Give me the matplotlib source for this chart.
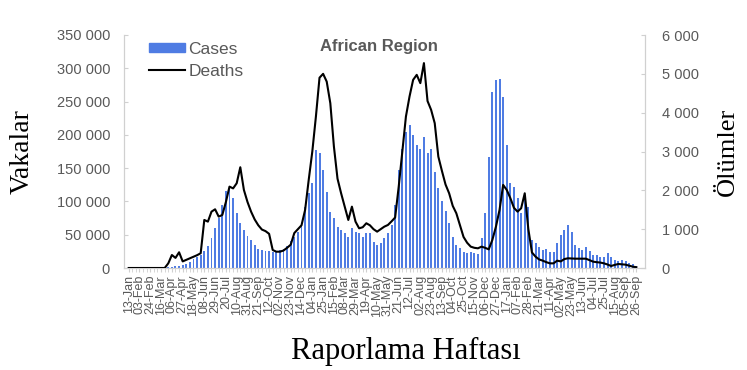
"""Weekly COVID-19 cases and deaths, WHO African Region."""
import pandas as pd
import matplotlib.pyplot as plt
from matplotlib.ticker import FuncFormatter, MultipleLocator
from matplotlib.lines import Line2D
from matplotlib.patches import Patch

START_WEEK = "2020-01-13"
N_WEEKS = 142

cases = [
    0, 0, 0, 0, 0, 0, 0, 0, 0,
    300, 700, 1200, 1800, 2500, 3000,
    4000, 6000, 9500, 13000, 16000, 19500, 25000, 33000, 45000, 60000,
    75000, 95000, 115000, 122000, 105000, 82000, 67000, 57000, 48000, 42000,
    35000, 29000, 27000, 26000, 25000, 24500, 25000, 27000, 28000, 33000,
    40000, 47000, 54500, 64000, 92000, 112000, 127000, 177000, 172000, 147000,
    114500, 84500, 74500, 62000, 57000, 52000, 47000, 59500, 54500, 52000,
    47000, 53000, 52000, 39500, 34500, 37000, 44500, 52000, 64500, 94500,
    147000, 179500, 204500, 214500, 199500, 184500, 179500, 197000, 172000, 179500,
    144500, 119500, 100000, 85000, 67000, 47000, 34500, 29500, 24000, 22000,
    23500, 22000, 21000, 44500, 82000, 167000, 264500, 282000, 284500, 257000,
    184500, 127000, 122000, 104500, 82000, 107000, 92000, 42000, 37000, 32000,
    27000, 28000, 24500, 24500, 37000, 49500, 57000, 64500, 54500, 34500,
    29500, 27000, 32000, 25000, 19500, 19500, 17000, 16000, 22000, 17000,
    12000, 11000, 12000, 11000, 7000, 6000, 3500,
]

deaths = [
    0, 0, 0, 0, 0, 0, 0, 0, 0, 0, 0,
    120, 335, 260, 405, 170, 210, 250, 290, 330, 380,
    1237, 1194, 1451, 1512, 1323, 1366, 1700, 2096, 2050, 2182,
    2595, 2010, 1700, 1450, 1250, 1100, 990, 950, 880, 464,
    420, 420, 450, 520, 600, 900, 1000, 1100, 1495, 2268,
    3000, 3900, 4900, 5000, 4800, 4244, 3127, 2300, 1924, 1580,
    1237, 1580, 1194, 1022, 1050, 1152, 1100, 1000, 936, 1000,
    1065, 1108, 1200, 1300, 2096, 3000, 3900, 4416, 4845, 4974,
    4760, 5276, 4300, 4072, 3729, 2869, 2500, 2150, 1924, 1600,
    1409, 1100, 800, 650, 550, 520, 507, 550, 520, 480,
    722, 1065, 1495, 2139, 2010, 1800, 1550, 1451, 1538, 1924,
    1000, 400, 292, 220, 189, 150, 120, 120, 189, 170,
    230, 250, 245, 240, 240, 240, 240, 200, 163, 150,
    140, 120, 90, 52, 80, 103, 95, 86, 60, 35, 20,
]

weeks = pd.date_range(START_WEEK, periods=N_WEEKS, freq="7D")
week_labels = [d.strftime("%d-%b") for d in weeks]

GRAY = "#595959"
AXIS = "#D0D0D0"
BLUE = "#4F7CE3"


def space_thousands(v, _pos):
    return f"{int(round(v)):,}".replace(",", " ")


def main():
    plt.rcParams["font.family"] = ["Liberation Sans", "DejaVu Sans"]

    fig = plt.figure(figsize=(7.47, 3.70), dpi=100)
    ax = fig.add_axes([124 / 747, 1 - 268 / 370, (645 - 124) / 747, (268 - 35) / 370])
    ax2 = ax.twinx()

    x = list(range(N_WEEKS))
    ax.bar(x, cases, width=0.55, color=BLUE, zorder=2)
    ax2.plot(x, deaths, color="black", lw=1.5, zorder=3)

    ax.set_xlim(-1.3, 143.4)
    ax.set_ylim(0, 350000)
    ax2.set_ylim(0, 6000)
    ax.yaxis.set_major_locator(MultipleLocator(50000))
    ax2.yaxis.set_major_locator(MultipleLocator(1000))
    ax.yaxis.set_major_formatter(FuncFormatter(space_thousands))
    ax2.yaxis.set_major_formatter(FuncFormatter(space_thousands))

    ax.set_xticks(x[::3])
    ax.set_xticklabels(week_labels[::3], rotation=90, fontsize=9, color=GRAY)
    ax.set_xticks(x, minor=True)
    ax.tick_params(axis="x", which="both", length=3, color=AXIS, pad=2)

    ax.tick_params(axis="y", direction="in", length=3, color=AXIS,
                   labelsize=10.5, labelcolor=GRAY, pad=10)
    ax2.tick_params(axis="y", direction="in", length=3, color=AXIS,
                    labelsize=10.5, labelcolor=GRAY, pad=12)

    for a in (ax, ax2):
        a.spines["top"].set_visible(False)
        for s in ("left", "right", "bottom"):
            a.spines[s].set_color(AXIS)

    ax.set_ylabel("Vakalar", family="Liberation Serif", fontsize=20, labelpad=16)
    ax2.set_ylabel("Ölümler", family="Liberation Serif", fontsize=19, labelpad=13)
    ax.set_xlabel("Raporlama Haftası", family="Liberation Serif", fontsize=22)
    ax.xaxis.set_label_coords(0.541, -0.295)

    fig.text(379 / 747, 1 - 46 / 370, "African Region", ha="center", va="center",
             fontsize=12, fontweight="bold", color=GRAY)

    handles = [Patch(color=BLUE), Line2D([], [], color="black", lw=1.5)]
    fig.legend(handles, ["Cases", "Deaths"], loc="upper left",
               bbox_to_anchor=(140 / 747, 1 - 33 / 370), frameon=False,
               fontsize=12.5, labelcolor=GRAY, handlelength=2.1, handleheight=0.45,
               handletextpad=0.2, labelspacing=0.4, borderpad=0)

    fig.savefig("out.png", dpi=100)


if __name__ == "__main__":
    main()
